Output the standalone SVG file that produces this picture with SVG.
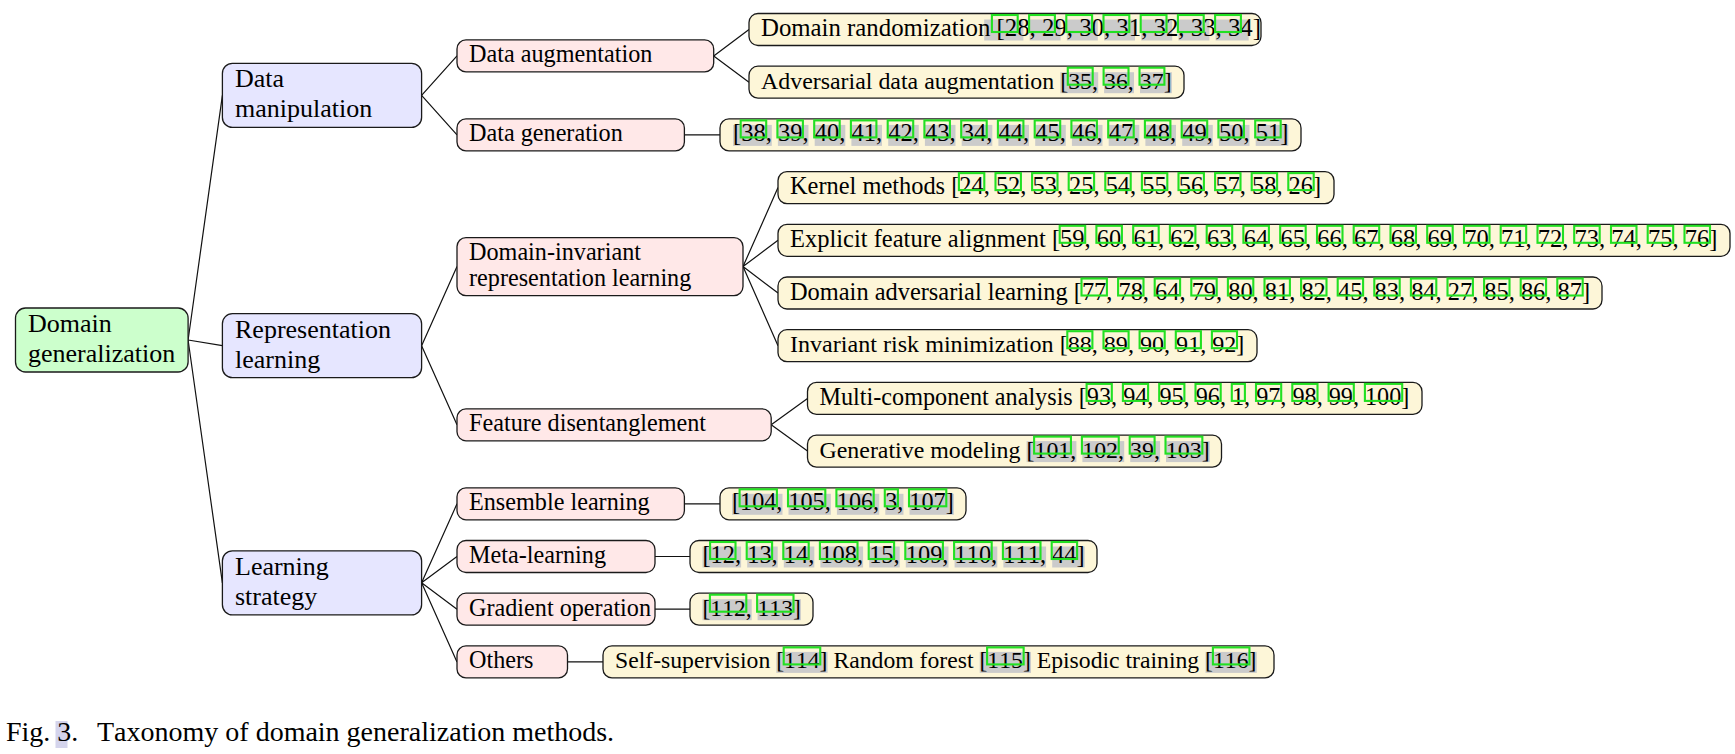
<svg xmlns="http://www.w3.org/2000/svg" width="1735" height="754" viewBox="0 0 1735 754">
<style>
text { font-family: "Liberation Serif", "Times New Roman", serif; fill: #000; font-kerning: none; font-variant-ligatures: none; }
.t1 { font-size: 26px; }
.t2 { font-size: 24.2px; }
.cap { font-size: 28px; }
.box { stroke: #1a1a1a; stroke-width: 1.3; }
.root { fill: #ccffcc; }
.b1 { fill: #e6e6ff; }
.b2 { fill: #ffe8e8; }
.b3 { fill: #fdf6d8; }
.edge { stroke: #111; stroke-width: 1.2; fill: none; }
.lk { fill: none; stroke: #22e022; stroke-width: 2.1; }
.hl { fill: #cbcbcb; }
</style>
<rect x="0" y="0" width="1735" height="754" fill="#fff"/>

<g id="connectors">
<path class="edge" d="M188.1,340 L222.4,95.4 M188.1,340 L222.4,345.7 M188.1,340 L222.4,582.85
M421.6,95.4 L457,55.9 M421.6,95.4 L457,134.9
M421.6,345.7 L457,266.6 M421.6,345.7 L457,424.8
M421.6,582.85 L457,503.8 M421.6,582.85 L457,556.5 M421.6,582.85 L457,609.2 M421.6,582.85 L457,661.9
M713.7,55.9 L749,29.5 M713.7,55.9 L749,82.2
M684.4,134.9 L720,134.9
M743,266.6 L778,187.6 M743,266.6 L778,240.3 M743,266.6 L778,293 M743,266.6 L778,345.7
M771.2,424.8 L807.5,398.4 M771.2,424.8 L807.5,451.1
M684.4,503.8 L720,503.8
M655,556.5 L690,556.5
M655,609.2 L690,609.2
M567.5,661.9 L603,661.9"/>
</g>

<g id="n-domain-generalization">
<rect class="box root" x="15.5" y="308" width="172.6" height="64" rx="10"/>
<text class="t1"><tspan x="28" y="332">Domain</tspan><tspan x="28" y="362">generalization</tspan></text>
</g>

<g id="n-data-manipulation">
<rect class="box b1" x="222.4" y="63.4" width="199.2" height="64" rx="10"/>
<text class="t1"><tspan x="235" y="87.4">Data</tspan><tspan x="235" y="117.4">manipulation</tspan></text>
</g>
<g id="n-representation-learning">
<rect class="box b1" x="222.4" y="313.7" width="199.2" height="64" rx="10"/>
<text class="t1"><tspan x="235" y="337.7">Representation</tspan><tspan x="235" y="367.7">learning</tspan></text>
</g>
<g id="n-learning-strategy">
<rect class="box b1" x="222.4" y="550.85" width="199.2" height="64" rx="10"/>
<text class="t1"><tspan x="235" y="574.85">Learning</tspan><tspan x="235" y="604.85">strategy</tspan></text>
</g>

<g id="n-data-augmentation">
<rect class="box b2" x="457" y="39.9" width="256.7" height="32" rx="9"/>
<text class="t2" x="469" y="62.4">Data augmentation</text>
</g>
<g id="n-data-generation">
<rect class="box b2" x="457" y="118.9" width="227.4" height="32" rx="9"/>
<text class="t2" x="469" y="141.4">Data generation</text>
</g>
<g id="n-domain-invariant">
<rect class="box b2" x="457" y="237.6" width="286" height="58" rx="9"/>
<text class="t2"><tspan x="469" y="259.8">Domain-invariant</tspan><tspan x="469" y="286.4">representation learning</tspan></text>
</g>
<g id="n-feature-disentanglement">
<rect class="box b2" x="457" y="408.8" width="314.2" height="32" rx="9"/>
<text class="t2" x="469" y="431.3">Feature disentanglement</text>
</g>
<g id="n-ensemble-learning">
<rect class="box b2" x="457" y="487.8" width="227.4" height="32" rx="9"/>
<text class="t2" x="469" y="510.3">Ensemble learning</text>
</g>
<g id="n-meta-learning">
<rect class="box b2" x="457" y="540.5" width="198" height="32" rx="9"/>
<text class="t2" x="469" y="563">Meta-learning</text>
</g>
<g id="n-gradient-operation">
<rect class="box b2" x="457" y="593.2" width="198" height="32" rx="9"/>
<text class="t2" x="469" y="615.7">Gradient operation</text>
</g>
<g id="n-others">
<rect class="box b2" x="457" y="645.9" width="110.5" height="32" rx="9"/>
<text class="t2" x="469" y="668.4">Others</text>
</g>

<g id="n-domain-randomization">
<rect class="box b3" x="749" y="13.5" width="512" height="32" rx="9"/>
<g class="hl"><rect x="984.2" y="19.5" width="39.2" height="21"/><rect x="1029.6" y="19.5" width="31" height="21"/><rect x="1066.8" y="19.5" width="31" height="21"/><rect x="1104" y="19.5" width="31" height="21"/><rect x="1141.2" y="19.5" width="31" height="21"/><rect x="1178.4" y="19.5" width="31" height="21"/><rect x="1215.6" y="19.5" width="33.1" height="21"/></g>
<text x="761" y="36" font-size="24.8">Domain randomization [28, 29, 30, 31, 32, 33, 34]</text>
<g class="lk"><rect x="991.9" y="15" width="25.8" height="17"/><rect x="1029.1" y="15" width="25.8" height="17"/><rect x="1066.3" y="15" width="25.8" height="17"/><rect x="1103.5" y="15" width="25.8" height="17"/><rect x="1140.7" y="15" width="25.8" height="17"/><rect x="1177.9" y="15" width="25.8" height="17"/><rect x="1215.1" y="15" width="25.8" height="17"/></g>
</g>

<g id="n-adversarial-data-augmentation">
<rect class="box b3" x="749" y="66.2" width="435" height="32" rx="9"/>
<g class="hl"><rect x="1060.3" y="72.2" width="37.9" height="21"/><rect x="1104.1" y="72.2" width="29.9" height="21"/><rect x="1140" y="72.2" width="31.9" height="21"/></g>
<text x="761" y="88.7" font-size="23.9">Adversarial data augmentation [35, 36, 37]</text>
<g class="lk"><rect x="1067.8" y="67.7" width="24.9" height="17"/><rect x="1103.6" y="67.7" width="24.9" height="17"/><rect x="1139.5" y="67.7" width="24.9" height="17"/></g>
</g>

<g id="n-data-generation-refs">
<rect class="box b3" x="720" y="118.9" width="581" height="32" rx="9"/>
<g class="hl"><rect x="733" y="124.9" width="38.8" height="21"/><rect x="777.9" y="124.9" width="30.6" height="21"/><rect x="814.7" y="124.9" width="30.6" height="21"/><rect x="851.4" y="124.9" width="30.6" height="21"/><rect x="888.2" y="124.9" width="30.6" height="21"/><rect x="924.9" y="124.9" width="30.6" height="21"/><rect x="961.7" y="124.9" width="30.6" height="21"/><rect x="998.4" y="124.9" width="30.6" height="21"/><rect x="1035.2" y="124.9" width="30.6" height="21"/><rect x="1071.9" y="124.9" width="30.6" height="21"/><rect x="1108.7" y="124.9" width="30.6" height="21"/><rect x="1145.4" y="124.9" width="30.6" height="21"/><rect x="1182.2" y="124.9" width="30.6" height="21"/><rect x="1218.9" y="124.9" width="30.6" height="21"/><rect x="1255.7" y="124.9" width="32.6" height="21"/></g>
<text x="733" y="141.4" font-size="24.5">[38, 39, 40, 41, 42, 43, 34, 44, 45, 46, 47, 48, 49, 50, 51]</text>
<g class="lk"><rect x="740.7" y="120.4" width="25.5" height="17"/><rect x="777.4" y="120.4" width="25.5" height="17"/><rect x="814.2" y="120.4" width="25.5" height="17"/><rect x="850.9" y="120.4" width="25.5" height="17"/><rect x="887.7" y="120.4" width="25.5" height="17"/><rect x="924.4" y="120.4" width="25.5" height="17"/><rect x="961.2" y="120.4" width="25.5" height="17"/><rect x="997.9" y="120.4" width="25.5" height="17"/><rect x="1034.7" y="120.4" width="25.5" height="17"/><rect x="1071.4" y="120.4" width="25.5" height="17"/><rect x="1108.2" y="120.4" width="25.5" height="17"/><rect x="1144.9" y="120.4" width="25.5" height="17"/><rect x="1181.7" y="120.4" width="25.5" height="17"/><rect x="1218.4" y="120.4" width="25.5" height="17"/><rect x="1255.2" y="120.4" width="25.5" height="17"/></g>
</g>

<g id="n-kernel-methods">
<rect class="box b3" x="778" y="171.6" width="556" height="32" rx="9"/>
<text x="790" y="194.1" font-size="24.4">Kernel methods [24, 52, 53, 25, 54, 55, 56, 57, 58, 26]</text>
<g class="lk"><rect x="958.9" y="173.1" width="25.4" height="17"/><rect x="995.5" y="173.1" width="25.4" height="17"/><rect x="1032.1" y="173.1" width="25.4" height="17"/><rect x="1068.7" y="173.1" width="25.4" height="17"/><rect x="1105.3" y="173.1" width="25.4" height="17"/><rect x="1141.9" y="173.1" width="25.4" height="17"/><rect x="1178.5" y="173.1" width="25.4" height="17"/><rect x="1215.1" y="173.1" width="25.4" height="17"/><rect x="1251.7" y="173.1" width="25.4" height="17"/><rect x="1288.3" y="173.1" width="25.4" height="17"/></g>
</g>

<g id="n-explicit-feature-alignment">
<rect class="box b3" x="778" y="224.3" width="952" height="32" rx="9"/>
<text x="790" y="246.8" font-size="24.5">Explicit feature alignment [59, 60, 61, 62, 63, 64, 65, 66, 67, 68, 69, 70, 71, 72, 73, 74, 75, 76]</text>
<g class="lk"><rect x="1059.7" y="225.8" width="25.5" height="17"/><rect x="1096.4" y="225.8" width="25.5" height="17"/><rect x="1133.2" y="225.8" width="25.5" height="17"/><rect x="1169.9" y="225.8" width="25.5" height="17"/><rect x="1206.7" y="225.8" width="25.5" height="17"/><rect x="1243.4" y="225.8" width="25.5" height="17"/><rect x="1280.2" y="225.8" width="25.5" height="17"/><rect x="1317" y="225.8" width="25.5" height="17"/><rect x="1353.7" y="225.8" width="25.5" height="17"/><rect x="1390.5" y="225.8" width="25.5" height="17"/><rect x="1427.2" y="225.8" width="25.5" height="17"/><rect x="1464" y="225.8" width="25.5" height="17"/><rect x="1500.7" y="225.8" width="25.5" height="17"/><rect x="1537.5" y="225.8" width="25.5" height="17"/><rect x="1574.2" y="225.8" width="25.5" height="17"/><rect x="1611" y="225.8" width="25.5" height="17"/><rect x="1647.7" y="225.8" width="25.5" height="17"/><rect x="1684.5" y="225.8" width="25.5" height="17"/></g>
</g>

<g id="n-domain-adversarial-learning">
<rect class="box b3" x="778" y="277" width="824" height="32" rx="9"/>
<text x="790" y="299.5" font-size="24.4">Domain adversarial learning [77, 78, 64, 79, 80, 81, 82, 45, 83, 84, 27, 85, 86, 87]</text>
<g class="lk"><rect x="1081.5" y="278.5" width="25.4" height="17"/><rect x="1118.1" y="278.5" width="25.4" height="17"/><rect x="1154.7" y="278.5" width="25.4" height="17"/><rect x="1191.3" y="278.5" width="25.4" height="17"/><rect x="1227.9" y="278.5" width="25.4" height="17"/><rect x="1264.5" y="278.5" width="25.4" height="17"/><rect x="1301.1" y="278.5" width="25.4" height="17"/><rect x="1337.7" y="278.5" width="25.4" height="17"/><rect x="1374.3" y="278.5" width="25.4" height="17"/><rect x="1410.9" y="278.5" width="25.4" height="17"/><rect x="1447.5" y="278.5" width="25.4" height="17"/><rect x="1484.1" y="278.5" width="25.4" height="17"/><rect x="1520.7" y="278.5" width="25.4" height="17"/><rect x="1557.3" y="278.5" width="25.4" height="17"/></g>
</g>

<g id="n-invariant-risk-minimization">
<rect class="box b3" x="778" y="329.7" width="479" height="32" rx="9"/>
<text x="790" y="352.2" font-size="24.1">Invariant risk minimization [88, 89, 90, 91, 92]</text>
<g class="lk"><rect x="1067.3" y="331.2" width="25.1" height="17"/><rect x="1103.5" y="331.2" width="25.1" height="17"/><rect x="1139.6" y="331.2" width="25.1" height="17"/><rect x="1175.8" y="331.2" width="25.1" height="17"/><rect x="1211.9" y="331.2" width="25.1" height="17"/></g>
</g>

<g id="n-multi-component-analysis">
<rect class="box b3" x="807.5" y="382.4" width="614.5" height="32" rx="9"/>
<text x="819.5" y="404.9" font-size="24.2">Multi-component analysis [93, 94, 95, 96, 1, 97, 98, 99, 100]</text>
<g class="lk"><rect x="1086.6" y="383.9" width="25.2" height="17"/><rect x="1122.9" y="383.9" width="25.2" height="17"/><rect x="1159.2" y="383.9" width="25.2" height="17"/><rect x="1195.5" y="383.9" width="25.2" height="17"/><rect x="1231.8" y="383.9" width="13.1" height="17"/><rect x="1256" y="383.9" width="25.2" height="17"/><rect x="1292.3" y="383.9" width="25.2" height="17"/><rect x="1328.6" y="383.9" width="25.2" height="17"/><rect x="1364.9" y="383.9" width="37.3" height="17"/></g>
</g>

<g id="n-generative-modeling">
<rect class="box b3" x="807.5" y="435.1" width="414" height="32" rx="9"/>
<g class="hl"><rect x="1026.6" y="441.1" width="49.8" height="21"/><rect x="1082.4" y="441.1" width="41.8" height="21"/><rect x="1130.2" y="441.1" width="29.9" height="21"/><rect x="1166" y="441.1" width="43.8" height="21"/></g>
<text x="819.5" y="457.6" font-size="23.9">Generative modeling [101, 102, 39, 103]</text>
<g class="lk"><rect x="1034.1" y="436.6" width="36.85" height="17"/><rect x="1081.9" y="436.6" width="36.85" height="17"/><rect x="1129.7" y="436.6" width="24.9" height="17"/><rect x="1165.5" y="436.6" width="36.85" height="17"/></g>
</g>

<g id="n-ensemble-refs">
<rect class="box b3" x="720" y="487.8" width="246" height="32" rx="9"/>
<g class="hl"><rect x="732" y="493.8" width="50.5" height="21"/><rect x="788.5" y="493.8" width="42.35" height="21"/><rect x="836.9" y="493.8" width="42.35" height="21"/><rect x="885.3" y="493.8" width="18.15" height="21"/><rect x="909.5" y="493.8" width="44.4" height="21"/></g>
<text x="732" y="510.3" font-size="24.2">[104, 105, 106, 3, 107]</text>
<g class="lk"><rect x="739.6" y="489.3" width="37.3" height="17"/><rect x="788" y="489.3" width="37.3" height="17"/><rect x="836.4" y="489.3" width="37.3" height="17"/><rect x="884.8" y="489.3" width="13.1" height="17"/><rect x="909" y="489.3" width="37.3" height="17"/></g>
</g>

<g id="n-meta-refs">
<rect class="box b3" x="690" y="540.5" width="407" height="32" rx="9"/>
<g class="hl"><rect x="702.5" y="546.5" width="38.6" height="21"/><rect x="747.2" y="546.5" width="30.5" height="21"/><rect x="783.8" y="546.5" width="30.5" height="21"/><rect x="820.4" y="546.5" width="42.7" height="21"/><rect x="869.2" y="546.5" width="30.5" height="21"/><rect x="905.8" y="546.5" width="42.7" height="21"/><rect x="954.6" y="546.5" width="42.7" height="21"/><rect x="1003.4" y="546.5" width="42.7" height="21"/><rect x="1052.2" y="546.5" width="32.5" height="21"/></g>
<text x="702.5" y="563" font-size="24.4">[12, 13, 14, 108, 15, 109, 110, 111, 44]</text>
<g class="lk"><rect x="710.1" y="542" width="25.4" height="17"/><rect x="746.7" y="542" width="25.4" height="17"/><rect x="783.3" y="542" width="25.4" height="17"/><rect x="819.9" y="542" width="37.6" height="17"/><rect x="868.7" y="542" width="25.4" height="17"/><rect x="905.3" y="542" width="37.6" height="17"/><rect x="954.1" y="542" width="37.6" height="17"/><rect x="1002.9" y="542" width="37.6" height="17"/><rect x="1051.7" y="542" width="25.4" height="17"/></g>
</g>

<g id="n-gradient-refs">
<rect class="box b3" x="690" y="593.2" width="123" height="32" rx="9"/>
<g class="hl"><rect x="702.5" y="599.2" width="49.2" height="21"/><rect x="757.6" y="599.2" width="43.3" height="21"/></g>
<text x="702.5" y="615.7" font-size="23.6">[112, 113]</text>
<g class="lk"><rect x="709.9" y="594.7" width="36.4" height="17"/><rect x="757.1" y="594.7" width="36.4" height="17"/></g>
</g>

<g id="n-others-refs">
<rect class="box b3" x="603" y="645.9" width="671" height="32" rx="9"/>
<g class="hl"><rect x="776.3" y="651.9" width="51.3" height="21"/><rect x="979.7" y="651.9" width="51.3" height="21"/><rect x="1205.5" y="651.9" width="51.3" height="21"/></g>
<text x="615" y="668.4" font-size="23.7">Self-supervision [114] Random forest [115] Episodic training [116]</text>
<g class="lk"><rect x="783.7" y="647.4" width="36.55" height="17"/><rect x="987.1" y="647.4" width="36.55" height="17"/><rect x="1212.9" y="647.4" width="36.55" height="17"/></g>
</g>

<g id="caption">
<rect x="55.5" y="721" width="12" height="27" fill="#d4d4ec"/>
<text class="cap"><tspan x="6" y="741">Fig. 3.</tspan><tspan x="97" y="741">Taxonomy of domain generalization methods.</tspan></text>
</g>
</svg>
